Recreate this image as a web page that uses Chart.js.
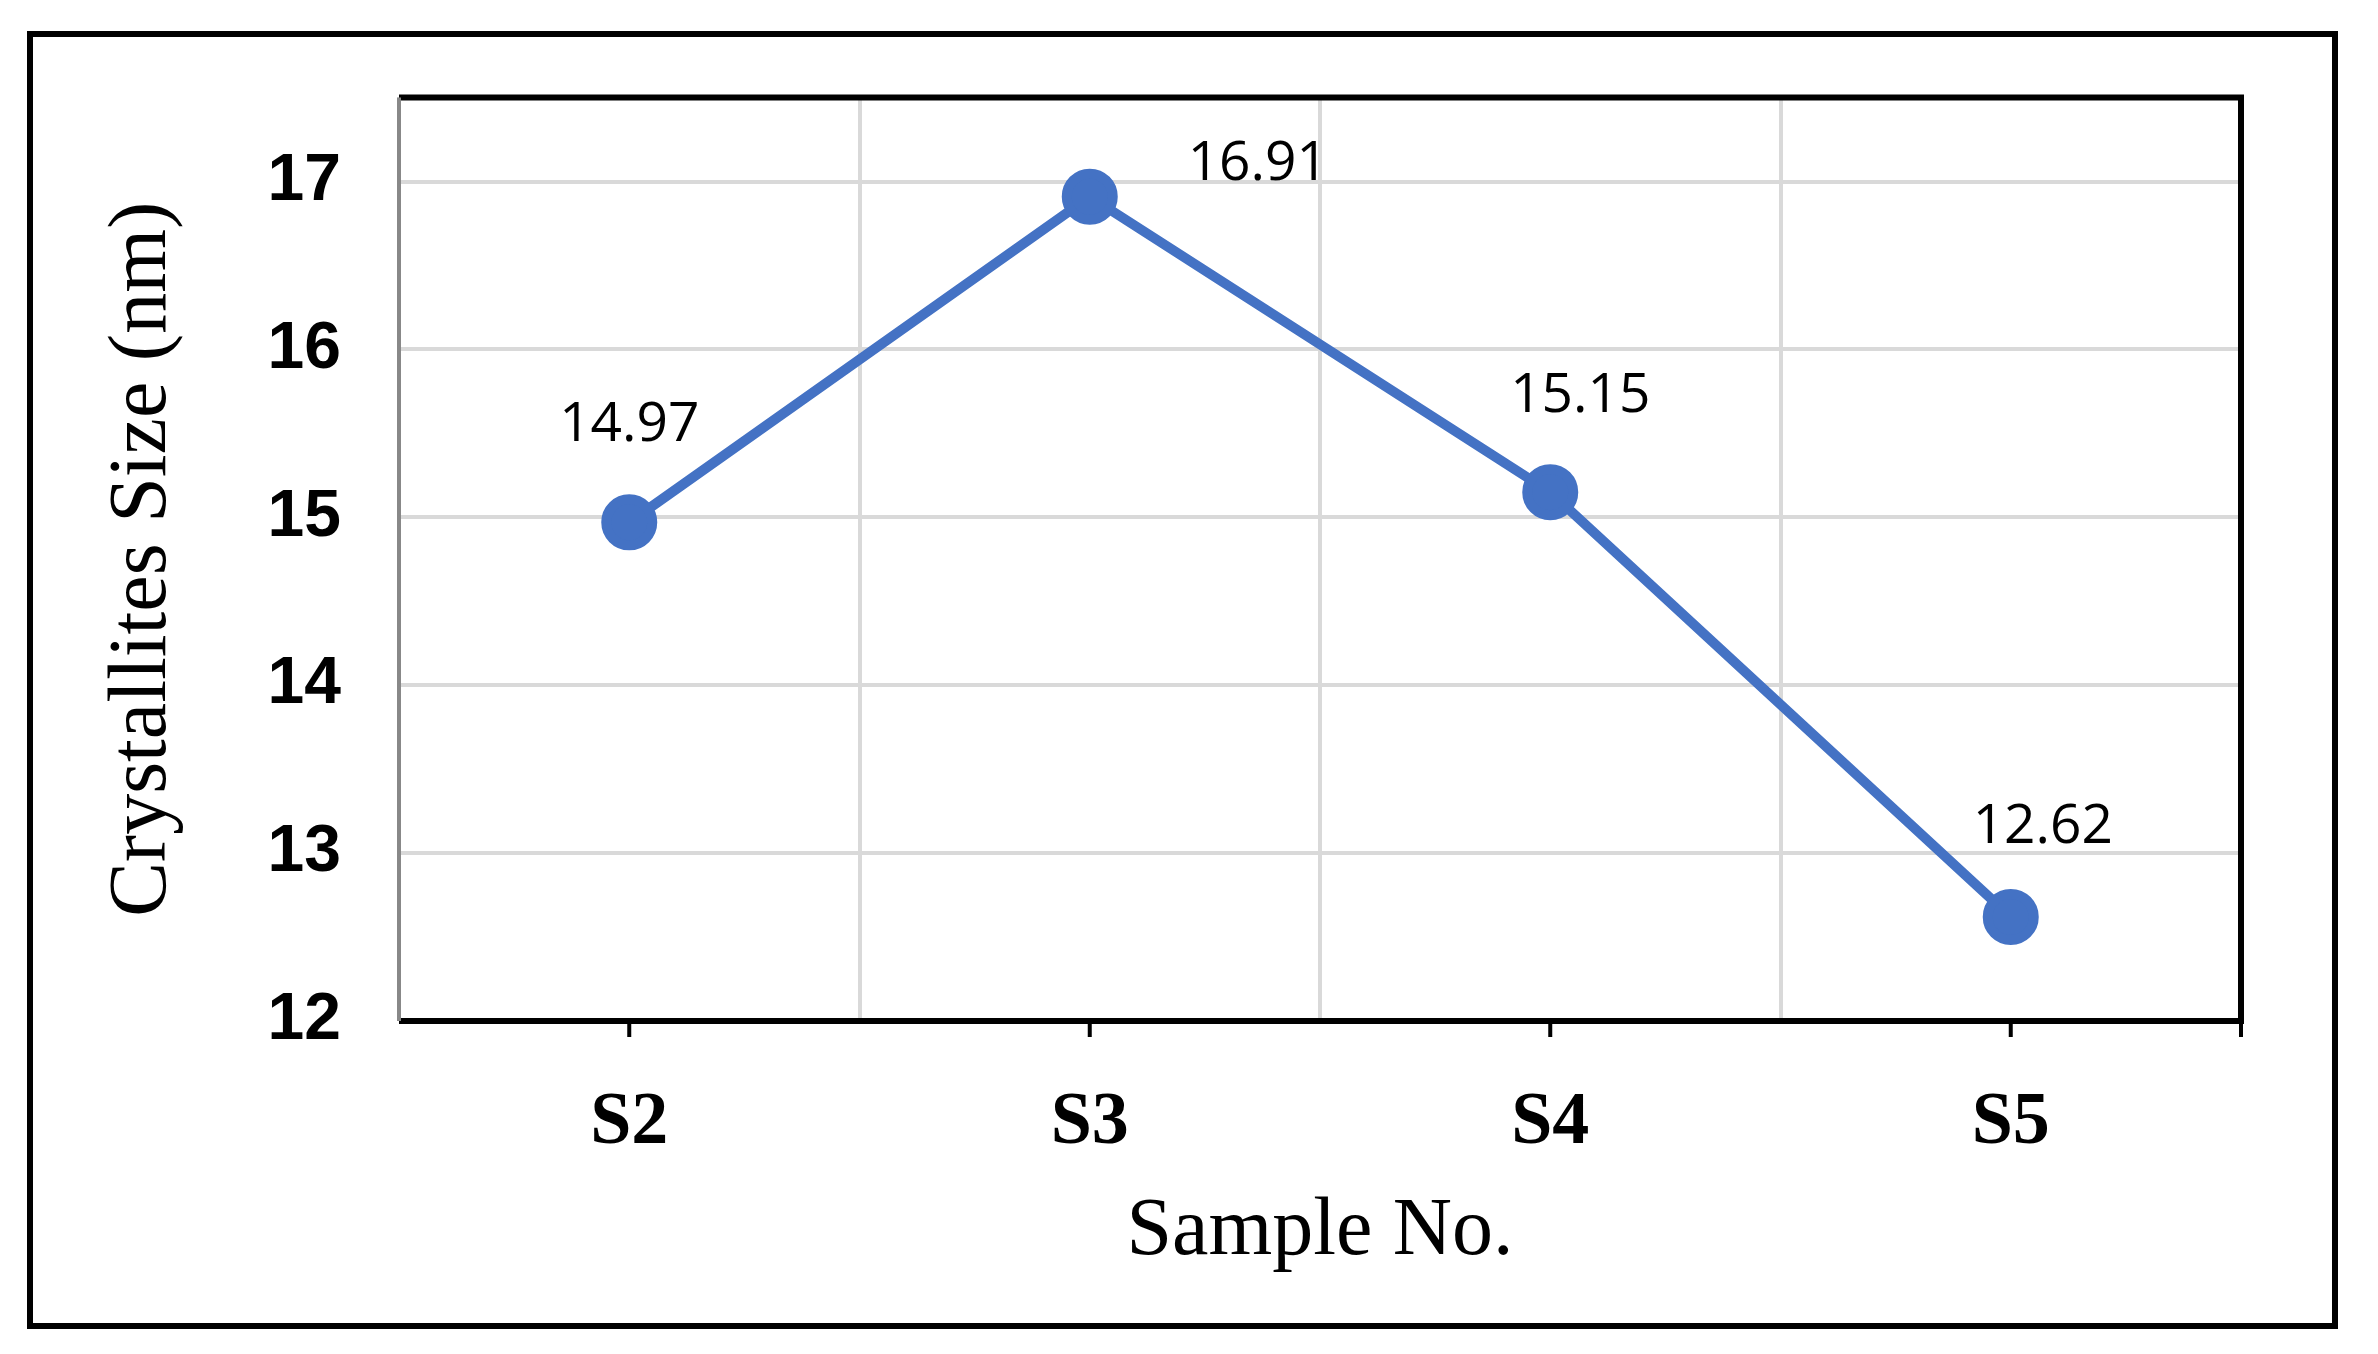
<!DOCTYPE html>
<html><head><meta charset="utf-8">
<script src="https://cdn.jsdelivr.net/npm/chart.js@4"></script>
<style>html,body{margin:0;padding:0;background:#fff}canvas{display:block}</style>
</head><body>
<div style="width:2378px;height:1354px"><canvas id="c"></canvas></div>
<script>
const categories = ["S2","S3","S4","S5"];
const crystalliteSize = [14.97,16.91,15.15,12.62];
const yTicks = [12,13,14,15,16,17];
const labelOffsets = [[0,-97],[168,-32],[30,-96],[32,-90]];

const deco = {
  id:'deco',
  beforeDraw(ch){
    const c=ch.ctx; c.save(); c.fillStyle='#fff'; c.fillRect(0,0,ch.width,ch.height); c.restore();
  },
  afterDraw(ch){
    const c=ch.ctx, a=ch.chartArea, x=ch.scales.x;
    c.save();
    c.strokeStyle='#000'; c.lineWidth=6; c.strokeRect(30,34,2305,1292);
    c.lineWidth=6; c.beginPath();
    c.moveTo(a.left,a.top); c.lineTo(a.right,a.top); c.lineTo(a.right,a.bottom); c.lineTo(a.left,a.bottom); c.stroke();
    c.strokeStyle='#888'; c.lineWidth=4; c.beginPath(); c.moveTo(a.left,a.top); c.lineTo(a.left,a.bottom); c.stroke();
    c.strokeStyle='#000'; c.lineWidth=4; c.beginPath();
    categories.forEach((_,i)=>{const px=x.getPixelForValue(i); c.moveTo(px,a.bottom); c.lineTo(px,a.bottom+16);});
    c.moveTo(a.right,a.bottom); c.lineTo(a.right,a.bottom+16); c.stroke();
    const meta=ch.getDatasetMeta(0);
    c.fillStyle='#000'; c.font='55px "Open Sans", "DejaVu Sans", sans-serif'; c.textAlign='center'; c.textBaseline='middle';
    meta.data.forEach((p,i)=>{c.fillText(crystalliteSize[i].toFixed(2),p.x+labelOffsets[i][0],p.y+labelOffsets[i][1]);});
    c.restore();
  }
};

new Chart(document.getElementById('c'),{
  type:'line',
  data:{labels:categories,datasets:[{data:crystalliteSize,borderColor:'#4472C4',backgroundColor:'#4472C4',borderWidth:10,pointRadius:23,pointHoverRadius:23,tension:0}]},
  options:{
    responsive:true,maintainAspectRatio:false,animation:false,
    layout:{padding:{left:30,right:137,top:91,bottom:0}},
    plugins:{legend:{display:false},tooltip:{enabled:false}},
    scales:{
      x:{offset:true,grid:{offset:true,color:'#d9d9d9',lineWidth:4,drawTicks:false},border:{display:false},
        afterFit(s){s.height=333;},
        ticks:{padding:58,color:'#000',font:{family:'"Liberation Serif", "DejaVu Serif", serif',size:74,weight:'bold'}},
        title:{display:true,text:'Sample No.',color:'#000',font:{family:'"Liberation Serif", "DejaVu Serif", serif',size:82},padding:{top:0,bottom:72}}},
      y:{min:12,max:17.5,afterFit(s){s.width=369;},
        afterBuildTicks(s){s.ticks=yTicks.map(v=>({value:v}));},
        grid:{color:'#d9d9d9',lineWidth:4,drawTicks:false},border:{display:false},
        ticks:{padding:58,color:'#000',font:{family:'"Liberation Sans", Arial, sans-serif',size:66,weight:'bold'}},
        title:{display:true,text:'Crystallites Size (nm)',color:'#000',font:{family:'"Liberation Serif", "DejaVu Serif", serif',size:82},padding:{top:64,bottom:0}}}
    }
  },
  plugins:[deco]
});
</script></body></html>
